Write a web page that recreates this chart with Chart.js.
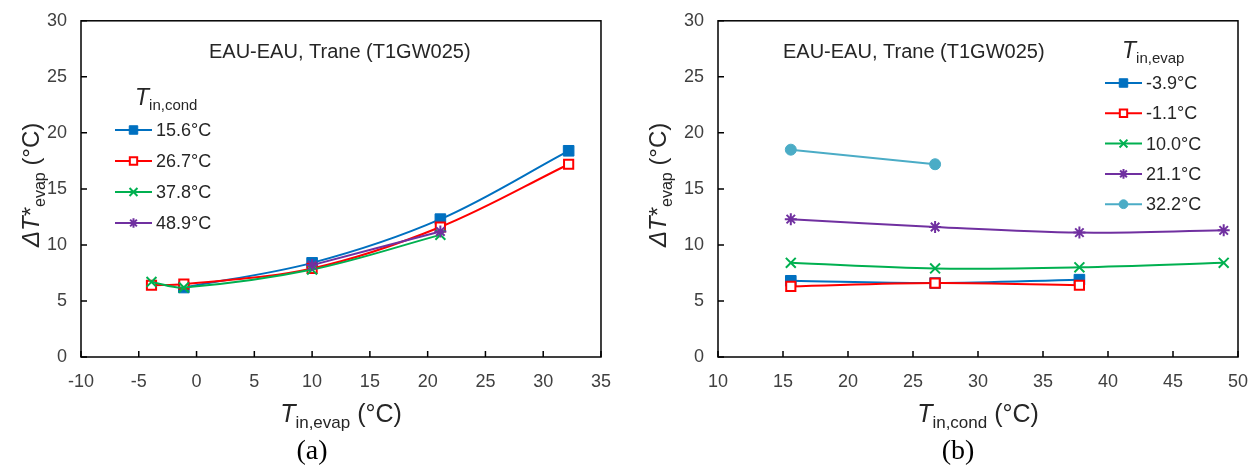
<!DOCTYPE html>
<html>
<head>
<meta charset="utf-8">
<script src="https://cdn.jsdelivr.net/npm/chart.js@4.4.0/dist/chart.umd.min.js"></script>
<style>
  html, body { margin: 0; padding: 0; background: #fff; }
  #wrap { position: relative; width: 1250px; height: 469px; overflow: hidden; }
  canvas { position: absolute; top: -4px; }
</style>
</head>
<body>
<div id="wrap">
  <canvas id="chartA" width="625" height="473" style="left:0"></canvas>
  <canvas id="chartB" width="660" height="473" style="left:625px"></canvas>
</div>
<script>
// (a) x = evaporator inlet temp, one series per condenser inlet temp
const evapTemps = [-3.9, -1.1, 10.0, 21.1, 32.2];
const condLabels = ["15.6°C", "26.7°C", "37.8°C", "48.9°C"];
const cond15_6 = [null, 6.2, 8.4, 12.3, 18.4];
const cond26_7 = [6.4, 6.5, 7.9, 11.6, 17.2];
const cond37_8 = [6.7, 6.2, 7.8, 10.9, null];
const cond48_9 = [null, null, 8.2, 11.2, null];

// (b) x = condenser inlet temp, one series per evaporator inlet temp
const condTemps = [15.6, 26.7, 37.8, 48.9];
const evapLabels = ["-3.9°C", "-1.1°C", "10.0°C", "21.1°C", "32.2°C"];
const evapM3_9 = [6.8, 6.6, 6.9, null];
const evapM1_1 = [6.3, 6.6, 6.4, null];
const evap10_0 = [8.4, 7.9, 8.0, 8.4];
const evap21_1 = [12.3, 11.6, 11.1, 11.3];
const evap32_2 = [18.5, 17.2, null, null];

// axis ranges [min, max, step]
const yRange = [0, 30, 5];
const xRangeA = [-10, 35, 5];
const xRangeB = [10, 50, 5];

const FONT = '"Liberation Sans", Arial, sans-serif';
const SHIFT = 4; // canvases sit 4px above the page top
Chart.defaults.font.family = FONT;

const markerBlue   = { color: "#0070C0", fill: "#0070C0", shape: "rect",     radius: 7.5, bw: 1 };
const markerRed    = { color: "#FF0000", fill: "#FFFFFF", shape: "rect",     radius: 6.5, bw: 2 };
const markerGreen  = { color: "#00B050", fill: "#00B050", shape: "crossRot", radius: 7,   bw: 2 };
const markerPurple = { color: "#7030A0", fill: "#7030A0", shape: "star",     radius: 6,   bw: 2 };
const markerCyan   = { color: "#4BACC6", fill: "#4BACC6", shape: "circle",   radius: 5.5, bw: 1 };

function makeDatasets(xVals, series, labels, styles) {
  return series.map((vals, i) => ({
    label: labels[i],
    data: xVals.map((x, j) => ({ x: x, y: vals[j] })).filter(p => p.y !== null),
    borderColor: styles[i].color,
    backgroundColor: styles[i].fill,
    pointBorderColor: styles[i].color,
    pointBackgroundColor: styles[i].fill,
    pointStyle: styles[i].shape,
    pointRadius: styles[i].radius,
    pointBorderWidth: styles[i].bw,
    borderWidth: 2,
    tension: 0.35,
    order: series.length - i,   // later series on top, like Excel
    _style: styles[i]
  }));
}

// text made of runs with different fonts / baseline shifts
function richWidth(ctx, parts) {
  let w = 0;
  parts.forEach(p => { ctx.font = p.font; w += ctx.measureText(p.t).width; });
  return w;
}
function drawRich(ctx, parts, x, y, align) {
  let cx = align === "center" ? x - richWidth(ctx, parts) / 2 : x;
  ctx.textAlign = "left";
  ctx.textBaseline = "alphabetic";
  parts.forEach(p => {
    ctx.font = p.font;
    ctx.fillText(p.t, cx, y + (p.dy || 0));
    cx += ctx.measureText(p.t).width;
  });
}

function marker(ctx, st, x, y, scale) {
  const h = Chart.helpers;
  ctx.save();
  ctx.strokeStyle = st.color;
  ctx.fillStyle = st.fill;
  ctx.lineWidth = st.bw;
  if (h && h.drawPoint) {
    h.drawPoint(ctx, { pointStyle: st.shape, radius: st.radius * scale, borderWidth: st.bw, rotation: 0 }, x, y);
  }
  ctx.restore();
}

const panelPlugin = {
  id: "panel",
  afterDraw(chart, args, o) {
    const ctx = chart.ctx;
    const a = chart.chartArea;
    const xs = chart.scales.x, ys = chart.scales.y;
    ctx.save();

    // frame with inside tick marks
    ctx.strokeStyle = "#000";
    ctx.lineWidth = 1.5;
    ctx.strokeRect(a.left, a.top, a.right - a.left, a.bottom - a.top);
    ctx.beginPath();
    xs.ticks.forEach(t => {
      const px = xs.getPixelForValue(t.value);
      ctx.moveTo(px, a.bottom); ctx.lineTo(px, a.bottom - 6);
    });
    ys.ticks.forEach(t => {
      const py = ys.getPixelForValue(t.value);
      ctx.moveTo(a.left, py); ctx.lineTo(a.left + 6, py);
    });
    ctx.stroke();

    // everything below uses page y coordinates
    ctx.translate(0, SHIFT);
    const midY = (a.top + a.bottom) / 2 - SHIFT;
    ctx.fillStyle = "#262626";

    // annotation
    ctx.font = "20px " + FONT;
    ctx.textAlign = "left";
    ctx.textBaseline = "middle";
    ctx.fillText("EAU-EAU, Trane (T1GW025)", o.noteX, 52);

    // legend
    drawRich(ctx, [
      { t: "T", font: "italic 23px " + FONT },
      { t: o.legendSub, font: "15px " + FONT, dy: 5 }
    ], o.legTitleX, o.legTitleY, "left");
    chart.data.datasets.forEach((ds, i) => {
      const y = o.legY0 + i * o.legDy;
      ctx.strokeStyle = ds.borderColor;
      ctx.lineWidth = 2;
      ctx.beginPath();
      ctx.moveTo(o.legX, y); ctx.lineTo(o.legX + 37, y);
      ctx.stroke();
      marker(ctx, ds._style, o.legX + 18.5, y, 0.8);
      ctx.fillStyle = "#262626";
      ctx.font = "18px " + FONT;
      ctx.textAlign = "left";
      ctx.textBaseline = "middle";
      ctx.fillText(ds.label, o.legX + 41, y + 1);
    });

    // x axis title
    drawRich(ctx, [
      { t: "T", font: "italic 25px " + FONT },
      { t: o.xSub, font: "17px " + FONT, dy: 6 },
      { t: " (°C)", font: "25px " + FONT }
    ], (a.left + a.right) / 2, 422, "center");

    // y axis title, rotated
    ctx.save();
    ctx.translate(o.yTitleX, midY - 4);
    ctx.rotate(-Math.PI / 2);
    drawRich(ctx, [
      { t: "ΔT", font: "italic 24px " + FONT },
      { t: "*", font: "24px " + FONT },
      { t: "evap", font: "16px " + FONT, dy: 6 },
      { t: " (°C)", font: "24px " + FONT }
    ], 0, 8, "center");
    ctx.restore();

    // panel caption
    ctx.fillStyle = "#000";
    ctx.font = '28px "Liberation Serif", "Times New Roman", serif';
    ctx.textAlign = "center";
    ctx.textBaseline = "alphabetic";
    ctx.fillText(o.caption, o.captionX, 459);

    ctx.restore();
  }
};

function axisOptions(xRange, yWidth) {
  const tickFont = { family: FONT, size: 18 };
  return {
    x: {
      type: "linear", min: xRange[0], max: xRange[1],
      ticks: { stepSize: xRange[2], font: tickFont, color: "#404040", padding: 14, autoSkip: false, maxRotation: 0 },
      grid: { display: false, drawTicks: false },
      border: { display: false },
      afterFit(s) { s.height = 112; }
    },
    y: {
      type: "linear", min: yRange[0], max: yRange[1],
      ticks: { stepSize: yRange[2], font: tickFont, color: "#404040", padding: 14 },
      grid: { display: false, drawTicks: false },
      border: { display: false },
      afterFit(s) { s.width = yWidth; }
    }
  };
}

function buildChart(id, datasets, xRange, yWidth, padRight, panelOpts) {
  return new Chart(document.getElementById(id), {
    type: "line",
    data: { datasets: datasets },
    options: {
      responsive: false,
      animation: false,
      devicePixelRatio: 1,
      events: [],
      layout: { padding: { top: 21, right: padRight, left: 0, bottom: 0 } },
      scales: axisOptions(xRange, yWidth),
      plugins: { legend: { display: false }, tooltip: { enabled: false }, panel: panelOpts }
    },
    plugins: [panelPlugin]
  });
}

buildChart("chartA",
  makeDatasets(evapTemps, [cond15_6, cond26_7, cond37_8, cond48_9], condLabels,
    [markerBlue, markerRed, markerGreen, markerPurple]),
  xRangeA, 81, 23,
  { noteX: 209, legendSub: "in,cond", legTitleX: 135, legTitleY: 105,
    legX: 115, legY0: 130, legDy: 31, xSub: "in,evap", yTitleX: 31,
    caption: "(a)", captionX: 312 });

buildChart("chartB",
  makeDatasets(condTemps, [evapM3_9, evapM1_1, evap10_0, evap21_1, evap32_2], evapLabels,
    [markerBlue, markerRed, markerGreen, markerPurple, markerCyan]),
  xRangeB, 93, 47,
  { noteX: 158, legendSub: "in,evap", legTitleX: 497, legTitleY: 58,
    legX: 480, legY0: 83, legDy: 30.3, xSub: "in,cond", yTitleX: 33,
    caption: "(b)", captionX: 333 });
</script>
</body>
</html>
